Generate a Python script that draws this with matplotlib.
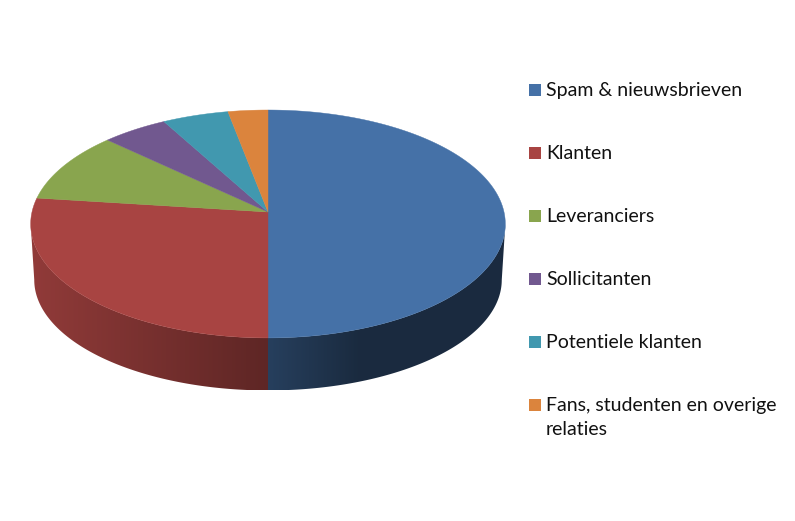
import numpy as np
import matplotlib
matplotlib.use("Agg")
import matplotlib.pyplot as plt
from matplotlib.patches import Polygon

# Chart data
LABELS = ["Spam & nieuwsbrieven", "Klanten", "Leveranciers", "Sollicitanten",
          "Potentiele klanten", "Fans, studenten en overige\nrelaties"]
VALUES = [50, 27, 10, 5, 5, 3]
COLORS = ["#4571A7", "#A84442", "#89A54E", "#71588F", "#4198AF", "#DB843D"]

# Pie geometry in pixels
APEX_X, APEX_Y = 268, 212
RADIUS_X, RADIUS_Y = 236, 112.7
TILT = 0.105
BOTTOM_SCALE_X, BOTTOM_SCALE_Y = 0.985, 0.97
BOTTOM_APEX_Y = 268.3


def top_point(theta):
    # theta runs clockwise from 12 o'clock, projected with a little perspective
    u, v = np.sin(theta), np.cos(theta)
    d = 1 + TILT * v
    return RADIUS_X * u / d, RADIUS_Y * v / d


def top_xy(theta):
    x, y = top_point(theta)
    return APEX_X + x, APEX_Y - y


def bottom_xy(theta):
    x, y = top_point(theta)
    return APEX_X + BOTTOM_SCALE_X * x, BOTTOM_APEX_Y - BOTTOM_SCALE_Y * y


def side_factor(i, x):
    # brightness of the wall along x, blue darkens fast and then stays flat
    if i == 0:
        return 0.56 - 0.18 * np.clip((x - APEX_X) / 90, 0, 1)
    return 0.86 - 0.30 * np.clip((x - 33) / (APEX_X - 33), 0, 1)


fig = plt.figure(figsize=(7.95, 5.21), dpi=100)
ax = fig.add_axes([0, 0, 1, 1])

edges = np.cumsum([0] + VALUES) / sum(VALUES) * 2 * np.pi

# Side wall, only the two front wedges can be seen
for i in [0, 1]:
    t = np.linspace(edges[i], edges[i + 1], 400)
    xt, yt = top_xy(t)
    # cut the arc at the widest point, the rest is behind the top face
    if i == 0:
        t = t[np.argmax(xt):]
    else:
        t = t[:np.argmin(xt) + 1]
    xt, yt = top_xy(t)
    xb, yb = bottom_xy(t)
    wall = Polygon(np.c_[np.r_[xt, xb[::-1]], np.r_[yt, yb[::-1]]],
                   closed=True, fc="none", ec="none", transform=ax.transData)
    ax.add_patch(wall)
    x0, x1 = min(xt.min(), xb.min()), max(xt.max(), xb.max())
    xs = np.linspace(x0, x1, 256)
    base = np.array(matplotlib.colors.to_rgb(COLORS[i]))
    grad = np.array([base * side_factor(i, x) for x in xs])[np.newaxis, :, :]
    im = ax.imshow(grad, extent=(x0, x1, yb.max(), yt.min()), aspect="auto",
                   interpolation="bilinear", zorder=1)
    im.set_clip_path(wall)

ax.set_xlim(0, 795)
ax.set_ylim(521, 0)
ax.axis("off")

# Top face
for i in range(len(VALUES)):
    t = np.linspace(edges[i], edges[i + 1], 200)
    x, y = top_xy(t)
    ax.fill(np.r_[APEX_X, x], np.r_[APEX_Y, y], color=COLORS[i], lw=0.3, zorder=2)

# Legend, drawn by hand because the square sits on the first line of a wrapped label
LEGEND_X, LEGEND_Y, LEGEND_STEP = 535, 90, 63
for i, label in enumerate(LABELS):
    y = LEGEND_Y + i * LEGEND_STEP
    ax.plot(LEGEND_X, y, marker="s", ms=8, mew=0, color=COLORS[i], zorder=3)
    ax.text(546, y - 8, label, family="Lato", fontsize=14, color="#111111",
            va="top", ha="left", linespacing=1.52)

fig.savefig("out.png", dpi=100, facecolor="white")
